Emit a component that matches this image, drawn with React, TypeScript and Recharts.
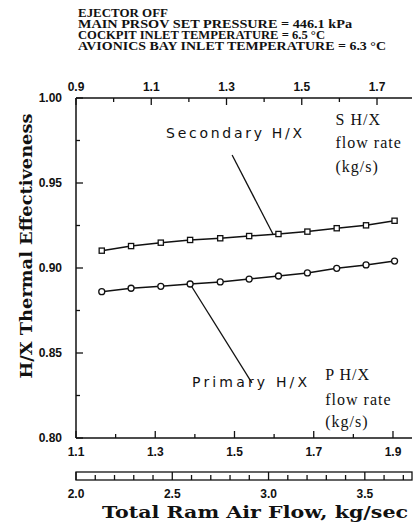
import React from "react";
import { LineChart, Line, XAxis, YAxis, ReferenceLine, ReferenceDot } from "recharts";

// each test point: primary H/X flow, secondary H/X flow and total ram air flow (kg/s)
const pFlow = [1.165, 1.239, 1.314, 1.388, 1.464, 1.537, 1.611, 1.684, 1.758, 1.832, 1.904];
const sFlow = [0.968, 1.046, 1.125, 1.203, 1.283, 1.36, 1.438, 1.515, 1.593, 1.67, 1.747];
const ramFlow = [2.133, 2.286, 2.44, 2.592, 2.748, 2.898, 3.05, 3.201, 3.354, 3.504, 3.653];
const secondaryEff = [0.9102, 0.9129, 0.9149, 0.9165, 0.9175, 0.9188, 0.92, 0.9214, 0.9234, 0.9251, 0.9278];
const primaryEff = [0.8861, 0.8881, 0.8892, 0.8906, 0.8918, 0.8935, 0.8953, 0.8971, 0.8998, 0.9018, 0.9041];

const sTicks = [0.9, 1.0, 1.1, 1.2, 1.3, 1.4, 1.5, 1.6, 1.7];
const sLabels = [0.9, 1.1, 1.3, 1.5, 1.7];
const pTicks = [1.1, 1.2, 1.3, 1.4, 1.5, 1.6, 1.7, 1.8, 1.9];
const pLabels = [1.1, 1.3, 1.5, 1.7, 1.9];
const ramTicks = [2.0, 2.1, 2.2, 2.3, 2.4, 2.5, 2.6, 2.7, 2.8, 2.9, 3.0, 3.1, 3.2, 3.3, 3.4, 3.5, 3.6, 3.7];
const ramLabels = [2.0, 2.5, 3.0, 3.5];
const effTicks = [0.8, 0.825, 0.85, 0.875, 0.9, 0.925, 0.95, 0.975, 1.0];
const effLabels = [0.8, 0.85, 0.9, 0.95, 1.0];

const header = [
  "EJECTOR OFF",
  "MAIN PRSOV SET PRESSURE = 446.1 kPa",
  "COCKPIT INLET TEMPERATURE = 6.5 °C",
  "AVIONICS BAY INLET TEMPERATURE = 6.3 °C",
];
const headerWidths = [90, 274, 247, 308];

const W = 414;
const H = 526;
const M = { top: 78, right: 2, bottom: 0, left: 0 };
const PLOT_W = 336;
const INK = "#111";
const tickFont = { fontFamily: "Liberation Sans, Arial, sans-serif", fontWeight: 700, fontSize: 12, fill: INK };

const has = (arr: number[], v: number) => arr.some((a) => Math.abs(a - v) < 1e-6);

function AxisTick(props: any) {
  const { x, y, payload, index, side, labels, digits } = props;
  const v = payload.value;
  const major = has(labels, v);
  const len = major ? 7 : 4;
  const txt = major ? v.toFixed(digits) : null;
  if (side === "left") {
    return (
      <g>
        <line x1={x} x2={x + len} y1={y} y2={y} stroke={INK} strokeWidth={1.3} />
        {txt && <text x={x - 14} y={y + 4} textAnchor="end" {...tickFont}>{txt}</text>}
      </g>
    );
  }
  if (side === "right") {
    return <line x1={x} x2={x - len} y1={y} y2={y} stroke={INK} strokeWidth={1.3} />;
  }
  if (side === "top") {
    return (
      <g>
        <line x1={x} x2={x} y1={y} y2={y + len} stroke={INK} strokeWidth={1.3} />
        {txt && <text x={x} y={y - 7} textAnchor="middle" {...tickFont}>{txt}</text>}
      </g>
    );
  }
  if (side === "bottom") {
    return (
      <g>
        <line x1={x} x2={x} y1={y} y2={y - len} stroke={INK} strokeWidth={1.3} />
        {txt && <text x={x} y={y + 18} textAnchor="middle" {...tickFont}>{txt}</text>}
      </g>
    );
  }
  // ram air scale: a thin box with ticks rising from its bottom edge
  return (
    <g>
      {index === 0 && <rect x={x} y={y} width={PLOT_W} height={8} fill="none" stroke={INK} strokeWidth={1.3} />}
      <line x1={x} x2={x} y1={y + 8} y2={major ? y : y + 3} stroke={INK} strokeWidth={1.3} />
      {txt && <text x={x} y={y + 26} textAnchor="middle" {...tickFont}>{txt}</text>}
    </g>
  );
}

function SquareDot(props: any) {
  const { cx, cy } = props;
  if (cx == null || cy == null) return null;
  return <rect x={cx - 2.6} y={cy - 2.6} width={5.2} height={5.2} fill="#fff" stroke={INK} strokeWidth={1.3} />;
}

function CircleDot(props: any) {
  const { cx, cy } = props;
  if (cx == null || cy == null) return null;
  return <circle cx={cx} cy={cy} r={3} fill="#fff" stroke={INK} strokeWidth={1.3} />;
}

function SansNote(props: any) {
  const { viewBox, text, width } = props;
  if (!viewBox) return null;
  return (
    <text x={viewBox.x} y={viewBox.y + 5} textAnchor="middle" textLength={width} lengthAdjust="spacing"
      fontFamily="DejaVu Sans, sans-serif" fontSize={14} fill={INK}>
      {text}
    </text>
  );
}

function SerifNote(props: any) {
  const { viewBox, lines, steps } = props;
  if (!viewBox) return null;
  return (
    <text fontFamily="Liberation Serif, serif" fontSize={16} letterSpacing={1} fill={INK}>
      {lines.map((l: string, i: number) => (
        <tspan key={i} x={viewBox.x} y={viewBox.y + 5 + steps[i]}>{l}</tspan>
      ))}
    </text>
  );
}

function YTitle(props: any) {
  const { viewBox } = props;
  const cx = viewBox.x + 32;
  const cy = viewBox.y + viewBox.height / 2 - 22;
  return (
    <text x={cx} y={cy} transform={`rotate(-90, ${cx}, ${cy})`} textAnchor="middle" textLength={265}
      lengthAdjust="spacingAndGlyphs" fontFamily="DejaVu Serif, serif" fontWeight={700} fontSize={16} fill={INK}>
      H/X Thermal Effectiveness
    </text>
  );
}

function XTitle(props: any) {
  const { viewBox } = props;
  return (
    <text x={viewBox.x + 26} y={viewBox.y + 46} textLength={306} lengthAdjust="spacingAndGlyphs"
      fontFamily="DejaVu Serif, serif" fontWeight={700} fontSize={16} fill={INK}>
      Total Ram Air Flow, kg/sec
    </text>
  );
}

export default function App() {
  const rows = pFlow.map((p, i) => ({
    p,
    s: sFlow[i],
    ram: ramFlow[i],
    secondary: secondaryEff[i],
    primary: primaryEff[i],
  }));
  return (
    <div style={{ position: "absolute", left: 0, top: 0, width: W, height: H, background: "#fff" }}>
      <LineChart width={W} height={H} data={rows} margin={M}>
        <XAxis xAxisId="s" dataKey="s" orientation="top" type="number" domain={[0.9, 1.793]} allowDataOverflow
          ticks={sTicks} interval={0} height={20} tickSize={0} tickMargin={0} tickLine={false}
          axisLine={{ stroke: INK, strokeWidth: 1.5 }}
          tick={<AxisTick side="top" labels={sLabels} digits={1} />} />
        <XAxis xAxisId="p" dataKey="p" orientation="bottom" type="number" domain={[1.1, 1.948]} allowDataOverflow
          ticks={pTicks} interval={0} height={34} tickSize={0} tickMargin={0} tickLine={false}
          axisLine={{ stroke: INK, strokeWidth: 1.5 }}
          tick={<AxisTick side="bottom" labels={pLabels} digits={1} />} />
        <XAxis xAxisId="ram" dataKey="ram" orientation="bottom" type="number" domain={[2.0, 3.745]} allowDataOverflow
          ticks={ramTicks} interval={0} height={54} tickSize={0} tickMargin={0} tickLine={false} axisLine={false}
          tick={<AxisTick side="ram" labels={ramLabels} digits={1} />}
          label={<XTitle />} />
        <YAxis yAxisId="l" orientation="left" type="number" domain={[0.8, 1.0]} allowDataOverflow
          ticks={effTicks} interval={0} width={76} tickSize={0} tickMargin={0} tickLine={false}
          axisLine={{ stroke: INK, strokeWidth: 1.5 }}
          tick={<AxisTick side="left" labels={effLabels} digits={2} />}
          label={<YTitle />} />
        <YAxis yAxisId="r" orientation="right" type="number" domain={[0.8, 1.0]} allowDataOverflow
          ticks={effTicks} interval={0} width={0} tickSize={0} tickMargin={0} tickLine={false}
          axisLine={{ stroke: INK, strokeWidth: 1.5 }}
          tick={<AxisTick side="right" labels={effLabels} digits={2} />} />

        <ReferenceLine xAxisId="p" yAxisId="l" ifOverflow="visible" stroke={INK} strokeWidth={1.3}
          segment={[{ x: 1.494, y: 0.9665 }, { x: 1.597, y: 0.92 }]} />
        <ReferenceLine xAxisId="p" yAxisId="l" ifOverflow="visible" stroke={INK} strokeWidth={1.3}
          segment={[{ x: 1.388, y: 0.8906 }, { x: 1.544, y: 0.8324 }]} />

        <Line xAxisId="p" yAxisId="l" type="linear" dataKey="secondary" stroke={INK} strokeWidth={1.5}
          dot={<SquareDot />} activeDot={false} isAnimationActive={false} />
        <Line xAxisId="p" yAxisId="l" type="linear" dataKey="primary" stroke={INK} strokeWidth={1.5}
          dot={<CircleDot />} activeDot={false} isAnimationActive={false} />

        <ReferenceDot xAxisId="p" yAxisId="l" x={1.499} y={0.9794} r={0} stroke="none" fill="none" ifOverflow="visible"
          label={<SansNote text="Secondary H/X" width={136} />} />
        <ReferenceDot xAxisId="p" yAxisId="l" x={1.538} y={0.8329} r={0} stroke="none" fill="none" ifOverflow="visible"
          label={<SansNote text="Primary H/X" width={115} />} />
        <ReferenceDot xAxisId="p" yAxisId="l" x={1.755} y={0.9871} r={0} stroke="none" fill="none" ifOverflow="visible"
          label={<SerifNote lines={["S H/X", "flow rate", "(kg/s)"]} steps={[0, 23, 47]} />} />
        <ReferenceDot xAxisId="p" yAxisId="l" x={1.729} y={0.8371} r={0} stroke="none" fill="none" ifOverflow="visible"
          label={<SerifNote lines={["P H/X", "flow rate", "(kg/s)"]} steps={[0, 25, 47]} />} />
      </LineChart>
      <svg width={W} height={60} style={{ position: "absolute", left: 0, top: 0, pointerEvents: "none" }}>
        {header.map((h, i) => (
          <text key={i} x={78} y={17 + i * 11} textLength={headerWidths[i]} lengthAdjust="spacingAndGlyphs"
            fontFamily="Liberation Serif, serif" fontWeight={700} fontSize={11.5} fill={INK}>
            {h}
          </text>
        ))}
      </svg>
    </div>
  );
}
